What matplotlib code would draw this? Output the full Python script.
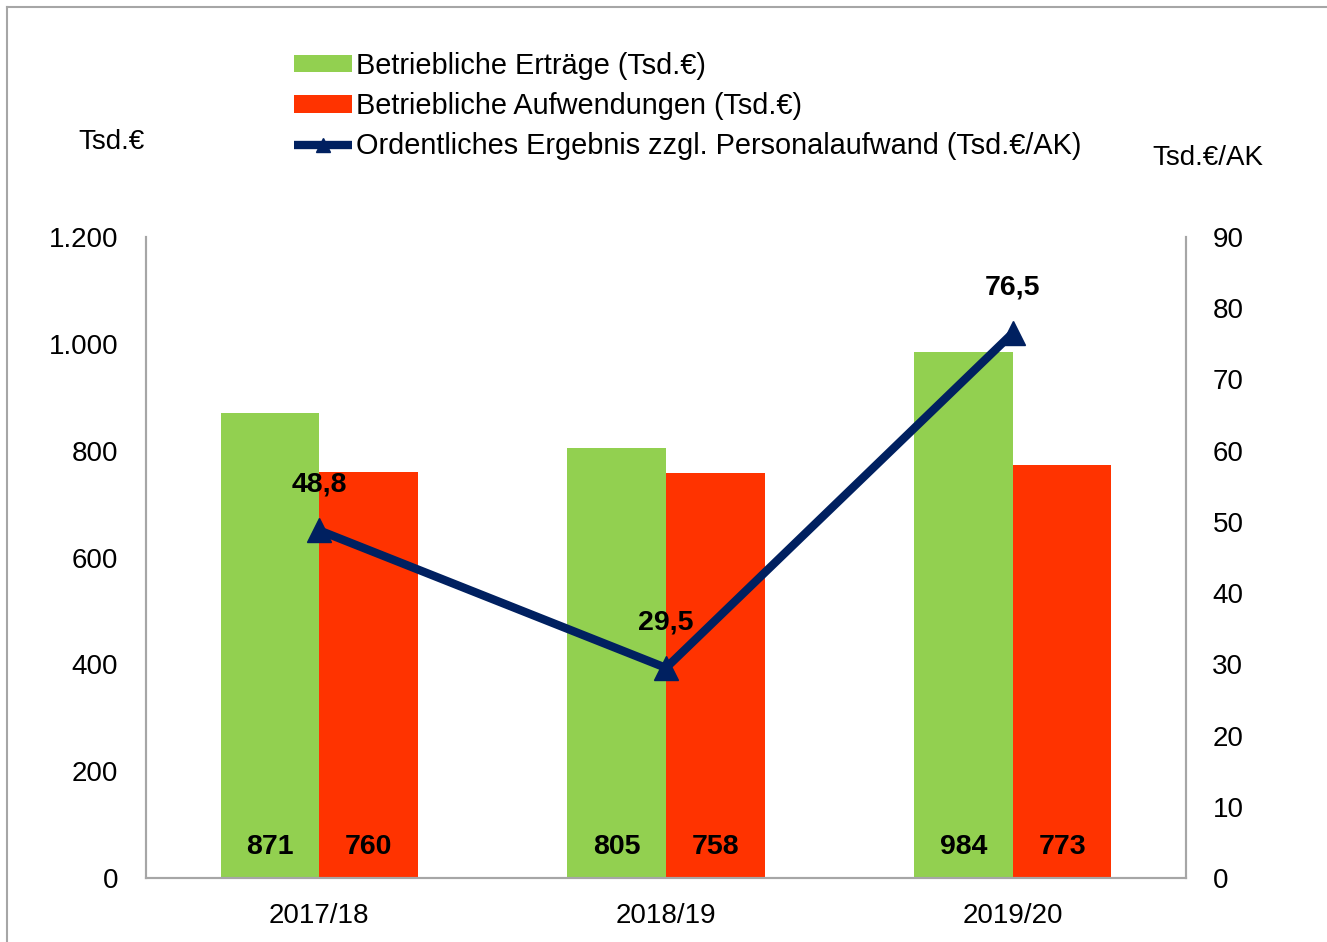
import matplotlib
matplotlib.use("Agg")
import matplotlib.pyplot as plt
from matplotlib.lines import Line2D
import numpy as np

plt.rcParams['font.family'] = ['Liberation Sans', 'DejaVu Sans']

categories = ["2017/18", "2018/19", "2019/20"]
ertraege = [871, 805, 984]
aufwendungen = [760, 758, 773]
ergebnis = [48.8, 29.5, 76.5]
ergebnis_labels = ["48,8", "29,5", "76,5"]
left_ticks = [0, 200, 400, 600, 800, 1000, 1200]
left_ticklabels = ["0", "200", "400", "600", "800", "1.000", "1.200"]
right_ticks = [0, 10, 20, 30, 40, 50, 60, 70, 80, 90]

GREEN = "#92D050"
RED = "#FF3300"
NAVY = "#002060"
GREY = "#A6A6A6"

W, H = 1327, 942
fig = plt.figure(figsize=(W / 100, H / 100), dpi=100)
fig.patch.set_facecolor("white")

# outer border (left and top visible)
fig.add_artist(Line2D([7 / W, 7 / W], [0, 1 - 7 / H], transform=fig.transFigure, color=GREY, lw=1.5))
fig.add_artist(Line2D([7 / W, 1], [1 - 7 / H, 1 - 7 / H], transform=fig.transFigure, color=GREY, lw=1.5))

ax = fig.add_axes([146 / W, (H - 878) / H, (1186 - 146) / W, (878 - 237) / H])
ax2 = ax.twinx()

x = np.arange(len(categories))
bw = 0.285
b1 = ax.bar(x - bw / 2, ertraege, width=bw, color=GREEN, label="Betriebliche Erträge (Tsd.€)", zorder=2)
b2 = ax.bar(x + bw / 2, aufwendungen, width=bw, color=RED, label="Betriebliche Aufwendungen (Tsd.€)", zorder=2)

for xi, v in zip(x - bw / 2, ertraege):
    ax.annotate(str(v), (xi, 0), xytext=(0, 22.5), textcoords="offset points",
                ha="center", va="center", fontsize=20.5, fontweight="bold")
for xi, v in zip(x + bw / 2, aufwendungen):
    ax.annotate(str(v), (xi, 0), xytext=(0, 22.5), textcoords="offset points",
                ha="center", va="center", fontsize=20.5, fontweight="bold")

ln, = ax2.plot(x, ergebnis, color=NAVY, lw=6, marker="^", markersize=17,
               label="Ordentliches Ergebnis zzgl. Personalaufwand (Tsd.€/AK)",
               solid_joinstyle="miter", solid_capstyle="butt")
for xi, v, lab in zip(x, ergebnis, ergebnis_labels):
    ax2.annotate(lab, (xi, v), xytext=(0, 33), textcoords="offset points",
                 ha="center", va="center", fontsize=20.5, fontweight="bold")

ax.set_xlim(-0.5, 2.5)
ax.set_ylim(0, 1200)
ax2.set_ylim(0, 90)
ax.set_yticks(left_ticks)
ax.set_yticklabels(left_ticklabels)
ax2.set_yticks(right_ticks)
ax.set_xticks(x)
ax.set_xticklabels(categories)

for a in (ax, ax2):
    a.spines["top"].set_visible(False)
    for s in ("left", "right", "bottom"):
        a.spines[s].set_color(GREY)
        a.spines[s].set_linewidth(1.5)
    a.set_facecolor("none")
ax.tick_params(axis="y", length=0, pad=20, labelsize=20)
ax.tick_params(axis="x", length=0, pad=18, labelsize=20)
ax2.tick_params(axis="y", length=0, pad=19, labelsize=20)

fig.text(112 / W, 1 - 142 / H, "Tsd.€", ha="center", va="center", fontsize=20)
fig.text(1208 / W, 1 - 158 / H, "Tsd.€/AK", ha="center", va="center", fontsize=20)

leg = fig.legend([b1, b2, ln],
                 [b1.get_label(), b2.get_label(), ln.get_label()],
                 loc="upper left", bbox_to_anchor=(294 / W, 1 - 52 / H),
                 frameon=False, fontsize=20.8, handlelength=2.0, handleheight=0.55,
                 handletextpad=0.15, labelspacing=0.42, borderpad=0, borderaxespad=0,
                 markerscale=0.6)

fig.savefig("out.png", dpi=100, facecolor="white")
